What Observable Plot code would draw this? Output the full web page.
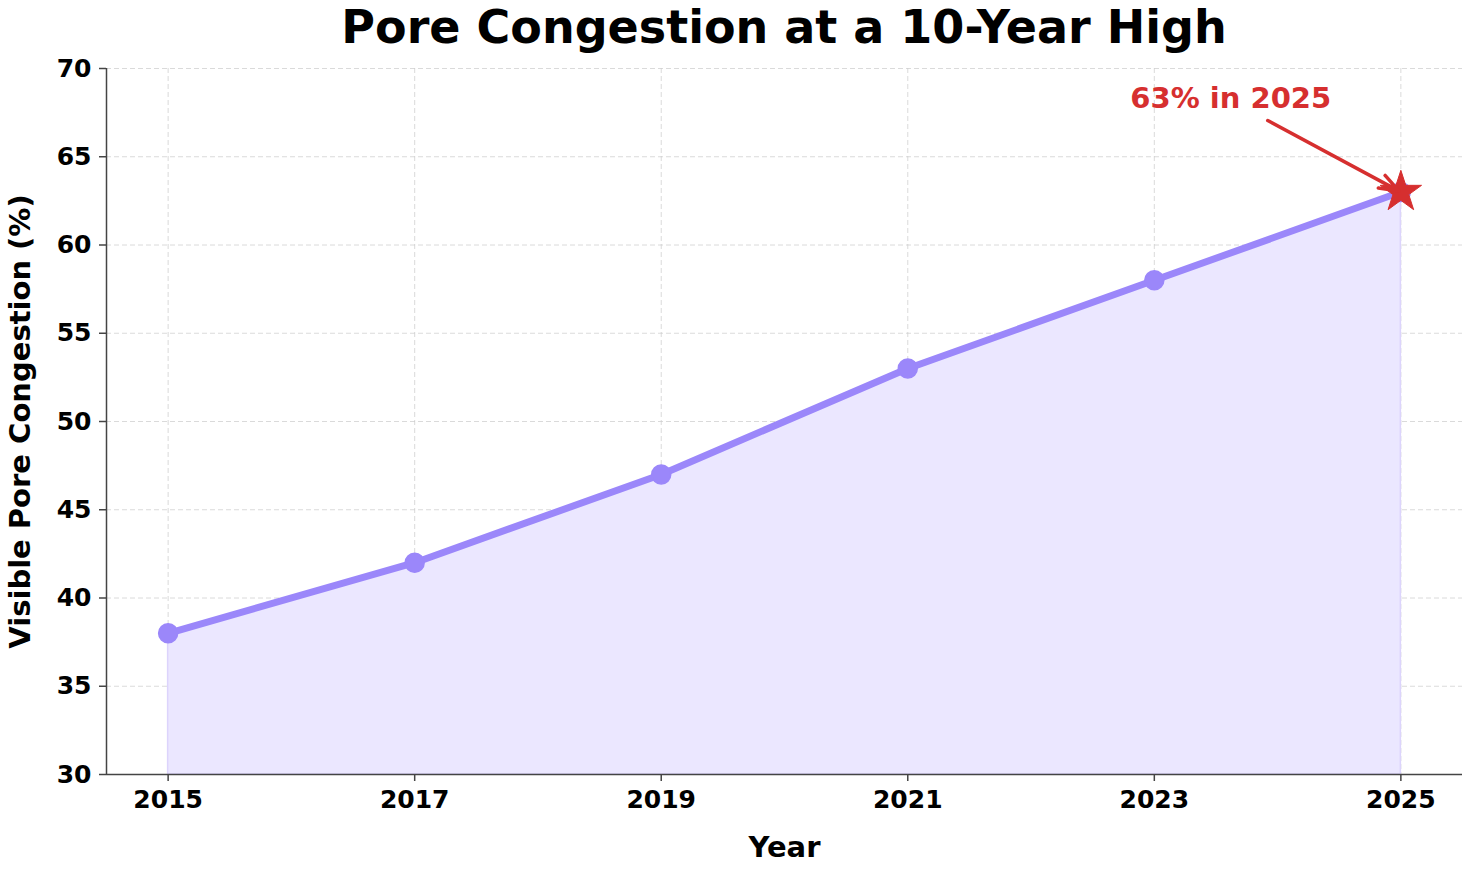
<!DOCTYPE html>
<html>
<head>
<meta charset="utf-8">
<script src="https://cdn.jsdelivr.net/npm/d3@7"></script>
<script src="https://cdn.jsdelivr.net/npm/@observablehq/plot@0.6"></script>
<style>
  html, body { margin: 0; padding: 0; background: #fff; }
  body { width: 1470px; height: 870px; overflow: hidden; font-family: "DejaVu Sans", sans-serif; }
  #title { height: 58px; line-height: 54px; text-align: center; font-size: 46px; font-weight: bold; color: #000; padding-left: 98px; box-sizing: border-box; white-space: nowrap; }
  svg text { font-family: "DejaVu Sans", sans-serif; }
</style>
</head>
<body>
<div id="title">Pore Congestion at a 10-Year High</div>
<div id="chart"></div>
<script>
const years = [2015, 2017, 2019, 2021, 2023, 2025];
const congestion = [38, 42, 47, 53, 58, 63];
const xTicks = [2015, 2017, 2019, 2021, 2023, 2025];
const yTicks = [30, 35, 40, 45, 50, 55, 60, 65, 70];
const annotationText = "63% in 2025";
const annotationTextPos = { x: 2023.62, y: 68.3 };
const annotationArrowStart = { x: 2023.92, y: 67.05 };

const data = years.map((y, i) => ({ year: y, value: congestion[i] }));
const last = data[data.length - 1];

const lineColor = "#9b87fa";
const fillColor = "#ebe7ff";
const red = "#d62f2f";

const chart = Plot.plot({
  width: 1470,
  height: 812,
  marginTop: 10,
  marginBottom: 96,
  marginLeft: 106,
  marginRight: 8,
  style: { fontFamily: "DejaVu Sans, sans-serif", background: "#fff", overflow: "visible" },
  x: { domain: [2014.5, 2025.5], ticks: xTicks, tickFormat: "d", label: null },
  y: { domain: [30, 70], ticks: yTicks, label: null },
  marks: [
    Plot.gridX(xTicks, { stroke: "#cccccc", strokeOpacity: 0.8, strokeDasharray: "5,3", strokeWidth: 0.9 }),
    Plot.gridY(yTicks, { stroke: "#cccccc", strokeOpacity: 0.8, strokeDasharray: "5,3", strokeWidth: 0.9 }),
    Plot.areaY(data, { x: "year", y1: 30, y2: "value", fill: fillColor, stroke: "#dcd4fc", strokeWidth: 1.5 }),
    Plot.line(data, { x: "year", y: "value", stroke: lineColor, strokeWidth: 7, strokeLinejoin: "round" }),
    Plot.dot(data, { x: "year", y: "value", r: 9.5, fill: lineColor, stroke: lineColor }),
    Plot.ruleX([2014.5], { y1: 30, y2: 70, stroke: "#444", strokeWidth: 1.5 }),
    Plot.ruleY([30], { x1: 2014.5, x2: 2025.5, stroke: "#444", strokeWidth: 1.5 }),
    Plot.axisX({ ticks: xTicks, tickFormat: "d", tickSize: 7, tickPadding: 9, fontSize: 25, fontWeight: "bold", stroke: "#444", strokeWidth: 1.5, label: null, fill: "#000" }),
    Plot.axisY({ ticks: yTicks, tickSize: 7, tickPadding: 8, fontSize: 25, fontWeight: "bold", stroke: "#444", strokeWidth: 1.5, label: null, fill: "#000" }),
    Plot.dot([last], { x: "year", y: "value", symbol: "star", r: 13, fill: red, stroke: red, strokeWidth: 1 }),
    Plot.arrow([last], {
      x1: () => annotationArrowStart.x, y1: () => annotationArrowStart.y,
      x2: "year", y2: "value",
      stroke: red, strokeWidth: 3.5, headLength: 9, headAngle: 40, insetEnd: 2, bend: 0
    }),
    Plot.text([annotationText], {
      x: () => annotationTextPos.x, y: () => annotationTextPos.y,
      text: d => d, fill: red, fontSize: 29, fontWeight: "bold", textAnchor: "middle", lineAnchor: "middle"
    }),
    Plot.text(["Year"], { frameAnchor: "bottom", dy: 73, text: d => d, fontSize: 29, fontWeight: "bold", fill: "#000", textAnchor: "middle", lineAnchor: "middle" }),
    Plot.text(["Visible Pore Congestion (%)"], { frameAnchor: "left", dx: -86, rotate: -90, text: d => d, fontSize: 29, fontWeight: "bold", fill: "#000", textAnchor: "middle", lineAnchor: "middle" })
  ]
});
document.getElementById("chart").appendChild(chart);
</script>
</body>
</html>
